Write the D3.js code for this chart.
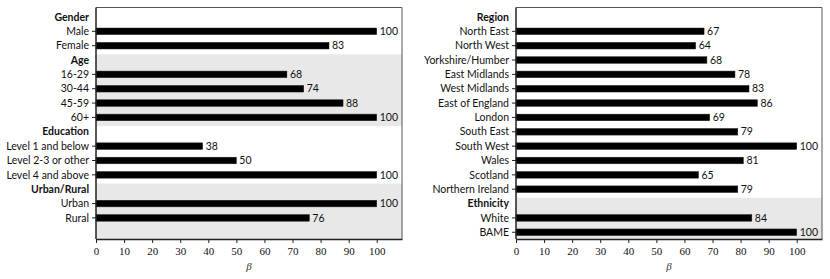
<!DOCTYPE html>
<html>
<head>
<meta charset="utf-8">
<script src="https://cdn.jsdelivr.net/npm/d3@7"></script>
<style>
  body { margin: 0; background: #fff; }
  .cat { font-family: Lato, "Open Sans", sans-serif; font-size: 10.5px; fill: #111; }
  .hdr { font-weight: bold; }
  .val { font-family: Lato, "Open Sans", sans-serif; font-size: 10.5px; fill: #111; }
</style>
</head>
<body>
<svg id="chart" width="830" height="279"></svg>
<script>
// left panel
var leftGroups = ["Gender", "Age", "Education", "Urban/Rural"];
var leftCategories = [
  ["Male", "Female"],
  ["16-29", "30-44", "45-59", "60+"],
  ["Level 1 and below", "Level 2-3 or other", "Level 4 and above"],
  ["Urban", "Rural"]
];
var leftValues = [
  [100, 83],
  [68, 74, 88, 100],
  [38, 50, 100],
  [100, 76]
];

// right panel
var rightGroups = ["Region", "Ethnicity"];
var rightCategories = [
  ["North East", "North West", "Yorkshire/Humber", "East Midlands", "West Midlands",
   "East of England", "London", "South East", "South West", "Wales", "Scotland", "Northern Ireland"],
  ["White", "BAME"]
];
var rightValues = [
  [67, 64, 68, 78, 83, 86, 69, 79, 100, 81, 65, 79],
  [84, 100]
];

var xTicks = [0, 10, 20, 30, 40, 50, 60, 70, 80, 90, 100];
var xLabel = "\u03b2";

var svg = d3.select("#chart");

function panel(left, groups, cats, vals) {
  var top = 7.5, bottom = 239, right = left + 306;

  // flatten into rows
  var rows = [], bands = [], idx = 0;
  groups.forEach(function(g, gi) {
    var start = idx;
    rows.push({ label: g, header: true, i: idx++ });
    cats[gi].forEach(function(c, ci) {
      rows.push({ label: c, value: vals[gi][ci], header: false, i: idx++ });
    });
    bands.push({ start: start, end: idx - 1, shaded: gi % 2 == 1, last: gi == groups.length - 1 });
  });

  var x = d3.scaleLinear().domain([0, 109]).range([left, right]);
  var y = d3.scaleLinear().domain([-0.66, 15.47]).range([top, bottom]);

  var g = svg.append("g");

  // shaded group backgrounds
  g.selectAll("rect.band")
    .data(bands.filter(function(b) { return b.shaded; }))
    .enter().append("rect")
    .attr("class", "band")
    .attr("x", left)
    .attr("width", right - left)
    .attr("y", function(b) { return y(b.start - 0.5) + 1.5; })
    .attr("height", function(b) {
      var y1 = b.last ? bottom : y(b.end + 0.5) + 1.5;
      return y1 - (y(b.start - 0.5) + 1.5);
    })
    .attr("fill", "#e8e8e8");

  var items = rows.filter(function(r) { return !r.header; });

  // bars
  g.selectAll("rect.bar")
    .data(items)
    .enter().append("rect")
    .attr("class", "bar")
    .attr("x", x(0))
    .attr("y", function(d) { return y(d.i) - 3.3; })
    .attr("width", function(d) { return x(d.value) - x(0); })
    .attr("height", 6.6)
    .attr("fill", "#000")
    .attr("stroke", "#222")
    .attr("stroke-width", 0.5);

  // value labels
  g.selectAll("text.val")
    .data(items)
    .enter().append("text")
    .attr("class", "val")
    .attr("x", function(d) { return x(d.value) + 3; })
    .attr("y", function(d) { return y(d.i); })
    .attr("dy", "0.35em")
    .text(function(d) { return d.value; });

  // y tick marks for items
  g.selectAll("line.ytick")
    .data(items)
    .enter().append("line")
    .attr("x1", left - 4).attr("x2", left)
    .attr("y1", function(d) { return y(d.i); })
    .attr("y2", function(d) { return y(d.i); })
    .attr("stroke", "#222").attr("stroke-width", 1);

  // category labels and headers
  g.selectAll("text.cat")
    .data(rows)
    .enter().append("text")
    .attr("class", function(d) { return d.header ? "cat hdr" : "cat"; })
    .attr("x", left - 7)
    .attr("y", function(d) { return y(d.i); })
    .attr("dy", "0.35em")
    .attr("text-anchor", "end")
    .text(function(d) { return d.label; });

  // frame
  g.append("line").attr("x1", left).attr("x2", right).attr("y1", top).attr("y2", top)
    .attr("stroke", "#555").attr("stroke-width", 1);
  g.append("line").attr("x1", right).attr("x2", right).attr("y1", top).attr("y2", bottom)
    .attr("stroke", "#555").attr("stroke-width", 1);
  g.append("line").attr("x1", left).attr("x2", left).attr("y1", top).attr("y2", bottom)
    .attr("stroke", "#222").attr("stroke-width", 1.5);

  // x axis
  var ax = g.append("g")
    .attr("transform", "translate(0," + bottom + ")")
    .call(d3.axisBottom(x).tickValues(xTicks).tickSize(4).tickPadding(4).tickSizeOuter(0));
  ax.attr("font-family", "'Liberation Serif', 'DejaVu Serif', serif").attr("font-size", 11);
  ax.select(".domain").attr("stroke", "#222").attr("stroke-width", 1.5);
  ax.selectAll(".tick line").attr("stroke", "#222");
  ax.selectAll(".tick text").attr("fill", "#111");

  g.append("text")
    .attr("x", (left + right) / 2)
    .attr("y", 270)
    .attr("text-anchor", "middle")
    .style("font-family", "'Liberation Serif', serif")
    .style("font-style", "italic")
    .style("font-size", "11px")
    .style("fill", "#333")
    .text(xLabel);
}

panel(96, leftGroups, leftCategories, leftValues);
panel(516, rightGroups, rightCategories, rightValues);
</script>
</body>
</html>
